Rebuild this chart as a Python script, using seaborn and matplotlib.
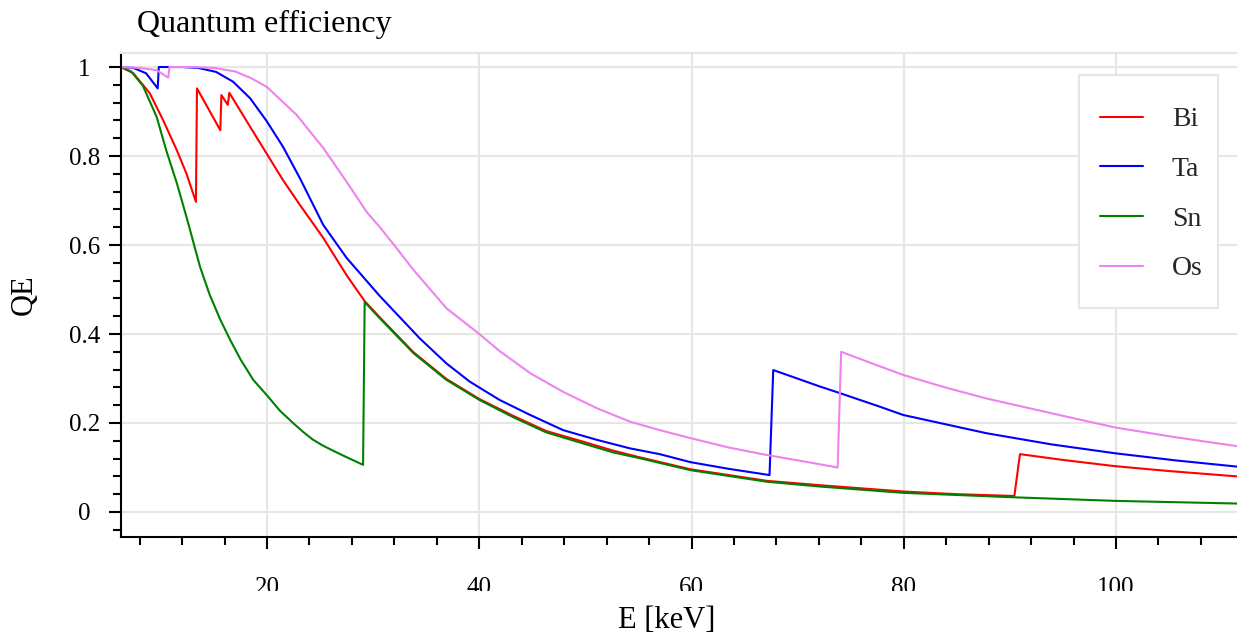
import numpy as np
import pandas as pd
import matplotlib
matplotlib.use("Agg")
import matplotlib.pyplot as plt
from matplotlib.ticker import MultipleLocator, FixedLocator, FixedFormatter
from matplotlib.transforms import Bbox, TransformedBbox
from matplotlib.patches import Rectangle
import seaborn as sns

# Photon energy [keV] and quantum efficiency for each absorber material
e_bi = [6.24, 7.4, 8.95, 10.2, 11.5, 12.4, 13.3, 13.4, 15.6, 15.7, 16.3, 16.45,
        18.4, 19.95, 21.5, 23.1, 25.3, 27.5, 29.2, 30.6, 33.8, 36.9, 40.0, 43.2,
        46.3, 49.5, 52.6, 55.1, 59.9, 67.1, 72.2, 80.0, 85.0, 90.42, 90.95, 95.0,
        99.9, 105.0, 111.4]
qe_bi = [1.0, 0.986, 0.941, 0.881, 0.813, 0.761, 0.697, 0.952, 0.858, 0.937, 0.915, 0.942,
         0.866, 0.806, 0.746, 0.690, 0.616, 0.532, 0.474, 0.438, 0.359, 0.299, 0.254, 0.216,
         0.182, 0.160, 0.138, 0.123, 0.096, 0.070, 0.060, 0.046, 0.040, 0.036, 0.130, 0.117,
         0.103, 0.092, 0.080]

e_ta = [6.24, 7.4, 8.6, 9.7, 9.8, 12.0, 13.5, 15.2, 16.8, 18.4, 19.95, 21.5, 23.1,
        25.3, 27.5, 30.6, 34.4, 36.9, 39.1, 41.9, 44.8, 47.9, 51.1, 54.2, 57.0,
        59.9, 63.5, 67.35, 67.7, 72.1, 74.0, 77.7, 79.95, 87.8, 93.9, 99.9, 105.6, 111.4]
qe_ta = [1.0, 0.998, 0.986, 0.952, 1.0, 1.0, 0.998, 0.989, 0.967, 0.93, 0.879, 0.821, 0.750,
         0.645, 0.571, 0.486, 0.39, 0.334, 0.293, 0.252, 0.218, 0.184, 0.162, 0.143, 0.130,
         0.112, 0.097, 0.083, 0.319, 0.282, 0.267, 0.237, 0.218, 0.177, 0.152, 0.132, 0.116, 0.102]

e_sn = [6.24, 7.2, 8.3, 9.6, 10.5, 11.5, 12.4, 13.7, 14.6, 15.6, 16.5, 17.5, 18.7,
        20.0, 21.2, 22.5, 23.4, 24.3, 25.2, 26.2, 27.6, 29.05, 29.2, 30.6, 33.8,
        36.9, 40.0, 43.2, 46.3, 49.5, 52.6, 55.1, 59.9, 67.1, 72.2, 80.0, 90.4,
        99.9, 111.4]
qe_sn = [1.0, 0.99, 0.958, 0.888, 0.813, 0.739, 0.664, 0.55, 0.488, 0.432, 0.388, 0.343, 0.297,
         0.262, 0.228, 0.199, 0.180, 0.163, 0.150, 0.138, 0.122, 0.106, 0.472, 0.436, 0.357,
         0.297, 0.252, 0.213, 0.179, 0.156, 0.134, 0.121, 0.094, 0.068, 0.057, 0.043, 0.033,
         0.025, 0.019]

e_os = [6.24, 8.0, 9.6, 10.7, 10.8, 13.0, 15.0, 17.0, 18.5, 20.0, 22.8, 25.3, 27.5,
        29.4, 30.6, 32.3, 33.8, 36.9, 39.9, 41.9, 44.8, 47.9, 51.1, 54.2, 57.0, 59.9,
        63.5, 67.1, 70.5, 73.77, 74.1, 77.0, 79.95, 83.9, 87.8, 93.9, 99.9, 105.6, 111.4]
qe_os = [1.0, 0.998, 0.993, 0.976, 1.0, 1.0, 0.998, 0.99, 0.975, 0.955, 0.892, 0.818, 0.742,
         0.674, 0.641, 0.590, 0.544, 0.458, 0.402, 0.362, 0.312, 0.270, 0.233, 0.203, 0.184, 0.166,
         0.145, 0.128, 0.114, 0.100, 0.360, 0.334, 0.308, 0.280, 0.255, 0.222, 0.190, 0.168, 0.148]

elements = ["Bi", "Ta", "Sn", "Os"]
line_colors = ["#ff0000", "#0000ff", "#008000", "#ee82ee"]

x_ticks = [20, 40, 60, 80, 100]
y_ticks = [0, 0.2, 0.4, 0.6, 0.8, 1.0]
y_tick_labels = ["0", "0.2", "0.4", "0.6", "0.8", "1"]

df = pd.concat([
    pd.DataFrame({"E": e, "QE": q, "element": name})
    for name, e, q in zip(elements, [e_bi, e_ta, e_sn, e_os], [qe_bi, qe_ta, qe_sn, qe_os])
], ignore_index=True)

sns.set_theme(style="white")
plt.rcParams["font.family"] = ["Liberation Serif", "DejaVu Serif"]
plt.rcParams["font.size"] = 18

fig = plt.figure(figsize=(12.37, 6.37), dpi=100)
ax = fig.add_axes([121 / 1237, 1 - 537 / 637, 1116 / 1237, 484 / 637])

sns.lineplot(data=df, x="E", y="QE", hue="element", hue_order=elements,
             palette=dict(zip(elements, line_colors)), sort=False, estimator=None,
             linewidth=1.5, ax=ax)

ax.set_xlim(6.24, 111.4)
ax.set_ylim(-0.0562, 1.0315)

ax.xaxis.set_major_locator(FixedLocator(x_ticks))
ax.xaxis.set_minor_locator(MultipleLocator(4))
ax.yaxis.set_major_locator(FixedLocator(y_ticks))
ax.yaxis.set_major_formatter(FixedFormatter(y_tick_labels))
ax.yaxis.set_minor_locator(MultipleLocator(0.04))

ax.grid(True, which="major", color="#e6e6e6", linewidth=1.5)
ax.set_axisbelow(True)

for side in ["left", "bottom"]:
    ax.spines[side].set_color("black")
    ax.spines[side].set_linewidth(1.5)
ax.spines["right"].set_visible(False)
ax.spines["top"].set_color("#e6e6e6")
ax.spines["top"].set_linewidth(1.5)

ax.tick_params(which="major", direction="out", length=8.5, width=1.5, color="black",
               labelsize=18, labelcolor="black")
ax.tick_params(which="minor", direction="out", length=5.5, width=1.5, color="black")
ax.tick_params(axis="x", which="both", bottom=True)
ax.tick_params(axis="y", which="both", left=True)
ax.tick_params(axis="x", which="major", pad=20)
ax.tick_params(axis="y", which="major", pad=18)
for lab in ax.get_yticklabels():
    lab.set_horizontalalignment("center")

ax.set_title("Quantum efficiency", loc="left", x=16 / 1116, pad=15, fontsize=23, color="black")
ax.set_xlabel("E [keV]", fontsize=22, color="black")
ax.set_ylabel("QE", fontsize=22, color="black")
ax.xaxis.set_label_coords(546 / 1116, -0.142)
ax.yaxis.set_label_coords(-0.0735, 0.5)

# Legend frame drawn as its own box, entries placed inside it
ax.add_patch(Rectangle((958 / 1116, 229 / 484), 139 / 1116, 233 / 484,
                       transform=ax.transAxes, facecolor="white", edgecolor="#e6e6e6",
                       linewidth=1.5, zorder=4))
sns.move_legend(ax, "upper left", bbox_to_anchor=(979 / 1116, 430 / 484), title=None,
                frameon=False, fontsize=20, handlelength=1.55, handletextpad=1.04,
                borderpad=0, borderaxespad=0, labelspacing=0.87)
ax.get_legend().set_zorder(5)

# Bottom tick labels are cut at the lower edge of the label band
clip = TransformedBbox(Bbox([[0, 46 / 637], [1, 1]]), fig.transFigure)
for lab in ax.get_xticklabels():
    lab.set_clip_box(clip)
    lab.set_clip_on(True)

fig.savefig("out.png", dpi=100)
